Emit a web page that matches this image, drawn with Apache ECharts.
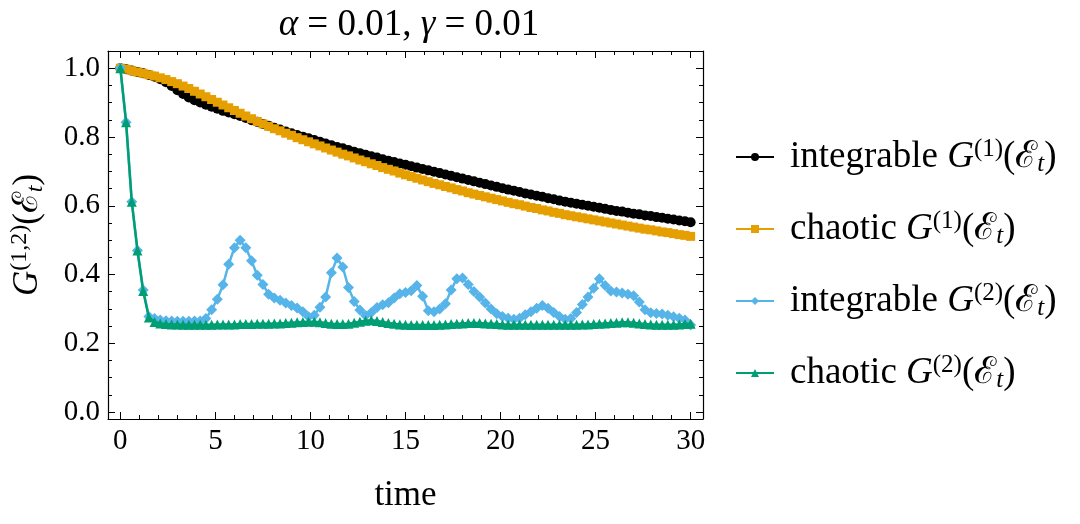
<!DOCTYPE html>
<html>
<head>
<meta charset="utf-8">
<script src="https://cdn.jsdelivr.net/npm/echarts@6/dist/echarts.min.js"></script>
<style>
html,body{margin:0;padding:0;background:#fff;}
#chart{width:1080px;height:524px;}
</style>
</head>
<body>
<div id="chart"></div>
<script>
const time = [0,0.3,0.6,0.9,1.2,1.5,1.8,2.1,2.4,2.7,3,3.3,3.6,3.9,4.2,4.5,4.8,5.1,5.4,5.7,6,6.3,6.6,6.9,7.2,7.5,7.8,8.1,8.4,8.7,9,9.3,9.6,9.9,10.2,10.5,10.8,11.1,11.4,11.7,12,12.3,12.6,12.9,13.2,13.5,13.8,14.1,14.4,14.7,15,15.3,15.6,15.9,16.2,16.5,16.8,17.1,17.4,17.7,18,18.3,18.6,18.9,19.2,19.5,19.8,20.1,20.4,20.7,21,21.3,21.6,21.9,22.2,22.5,22.8,23.1,23.4,23.7,24,24.3,24.6,24.9,25.2,25.5,25.8,26.1,26.4,26.7,27,27.3,27.6,27.9,28.2,28.5,28.8,29.1,29.4,29.7,30];

const integrableG1 = [1.000,0.997,0.993,0.989,0.985,0.980,0.975,0.968,0.959,0.948,0.936,0.925,0.915,0.907,0.900,0.894,0.888,0.882,0.876,0.871,0.866,0.861,0.855,0.849,0.844,0.838,0.833,0.827,0.822,0.816,0.811,0.806,0.801,0.796,0.791,0.786,0.781,0.776,0.771,0.767,0.762,0.757,0.753,0.748,0.744,0.740,0.735,0.731,0.727,0.723,0.719,0.715,0.711,0.707,0.703,0.699,0.695,0.691,0.687,0.683,0.679,0.675,0.671,0.667,0.663,0.659,0.655,0.651,0.647,0.644,0.640,0.636,0.633,0.629,0.626,0.622,0.619,0.615,0.612,0.609,0.606,0.603,0.600,0.597,0.594,0.591,0.588,0.585,0.583,0.580,0.577,0.575,0.572,0.570,0.567,0.565,0.562,0.560,0.557,0.555,0.552];

const chaoticG1 = [1.000,0.997,0.993,0.989,0.985,0.981,0.977,0.972,0.967,0.961,0.955,0.948,0.941,0.933,0.925,0.917,0.909,0.901,0.893,0.885,0.877,0.869,0.861,0.853,0.845,0.838,0.831,0.824,0.818,0.811,0.805,0.798,0.792,0.786,0.780,0.774,0.768,0.762,0.756,0.750,0.745,0.739,0.733,0.728,0.722,0.717,0.711,0.706,0.701,0.695,0.690,0.685,0.680,0.675,0.670,0.665,0.661,0.656,0.652,0.647,0.643,0.638,0.634,0.630,0.626,0.622,0.618,0.614,0.610,0.606,0.603,0.599,0.595,0.592,0.588,0.585,0.581,0.578,0.574,0.571,0.568,0.565,0.562,0.559,0.556,0.553,0.550,0.547,0.544,0.541,0.538,0.535,0.532,0.530,0.527,0.524,0.522,0.519,0.516,0.514,0.511];

const integrableG2 = [1.000,0.843,0.612,0.470,0.355,0.278,0.272,0.268,0.266,0.265,0.264,0.264,0.264,0.265,0.265,0.272,0.298,0.328,0.370,0.430,0.478,0.500,0.478,0.440,0.398,0.371,0.343,0.332,0.325,0.317,0.310,0.303,0.292,0.277,0.282,0.305,0.335,0.405,0.448,0.422,0.362,0.322,0.297,0.281,0.290,0.304,0.312,0.318,0.332,0.344,0.348,0.353,0.368,0.337,0.295,0.292,0.300,0.315,0.355,0.388,0.390,0.371,0.351,0.335,0.317,0.300,0.286,0.278,0.273,0.270,0.273,0.283,0.292,0.302,0.310,0.302,0.290,0.278,0.270,0.272,0.290,0.313,0.335,0.360,0.388,0.368,0.352,0.349,0.346,0.343,0.338,0.320,0.298,0.289,0.287,0.285,0.282,0.277,0.273,0.268,0.253];

const chaoticG2 = [1.000,0.843,0.612,0.470,0.352,0.275,0.262,0.258,0.256,0.255,0.255,0.254,0.254,0.254,0.254,0.254,0.254,0.255,0.255,0.255,0.255,0.256,0.256,0.256,0.257,0.257,0.257,0.258,0.258,0.259,0.260,0.261,0.262,0.263,0.263,0.261,0.259,0.257,0.256,0.256,0.257,0.260,0.263,0.266,0.267,0.265,0.262,0.259,0.257,0.255,0.254,0.253,0.253,0.253,0.253,0.253,0.254,0.255,0.256,0.257,0.258,0.259,0.259,0.259,0.258,0.257,0.256,0.255,0.254,0.254,0.254,0.254,0.254,0.254,0.254,0.254,0.254,0.254,0.254,0.254,0.254,0.255,0.255,0.256,0.257,0.258,0.259,0.260,0.261,0.261,0.260,0.258,0.256,0.255,0.254,0.254,0.254,0.254,0.255,0.256,0.257];

const seriesNames = ['integrable G1', 'chaotic G1', 'integrable G2', 'chaotic G2'];
const xMajorTicks = [0,5,10,15,20,25,30];
const xMinorTicks = [1,2,3,4,6,7,8,9,11,12,13,14,16,17,18,19,21,22,23,24,26,27,28,29];
const yMajorTicks = [0,0.2,0.4,0.6,0.8,1.0];
const yMinorTicks = [0.05,0.1,0.15,0.25,0.3,0.35,0.45,0.5,0.55,0.65,0.7,0.75,0.85,0.9,0.95];

const FONT = 'Liberation Serif';
const FS = 29;   // tick labels

function makeRich(bf, sf, lh) {
  return {
    r: {fontFamily: FONT, fontSize: bf, lineHeight: lh, color: '#000'},
    rp: {fontFamily: FONT, fontSize: bf, lineHeight: lh, color: '#000', padding: [0,0,0,11]},
    i: {fontFamily: FONT, fontSize: bf, lineHeight: lh, fontStyle: 'italic', color: '#000'},
    cal: {fontFamily: FONT, fontSize: bf, lineHeight: lh, color: '#000'},
    sup: {fontFamily: FONT, fontSize: sf, lineHeight: sf, verticalAlign: 'top', color: '#000'},
    sub: {fontFamily: FONT, fontSize: sf, lineHeight: sf - 2, fontStyle: 'italic', verticalAlign: 'bottom', color: '#000'}
  };
}
const richAxis = makeRich(35, 24, 40);
const richBig = makeRich(37, 25, 40);

function toPairs(ys) { return time.map((t, k) => [t, ys[k]]); }

const XMIN = -0.65, XMAX = 30.65, YMIN = -0.02, YMAX = 1.05;
const axisLineStyle = {color: '#000', width: 1.2};

function xAxisDef(pos, ticks, len, labels, showLine) {
  return {
    type: 'value', gridIndex: 0, position: pos, min: XMIN, max: XMAX,
    axisLine: {show: showLine, onZero: false, lineStyle: axisLineStyle},
    axisTick: {show: true, inside: true, length: len, customValues: ticks, lineStyle: {color: '#000', width: 1}},
    axisLabel: labels ? {show: true, customValues: ticks, fontFamily: FONT, fontSize: FS, color: '#000', margin: 8} : {show: false},
    splitLine: {show: false}
  };
}
function yAxisDef(pos, ticks, len, labels, showLine) {
  return {
    type: 'value', gridIndex: 0, position: pos, min: YMIN, max: YMAX,
    axisLine: {show: showLine, onZero: false, lineStyle: axisLineStyle},
    axisTick: {show: true, inside: true, length: len, customValues: ticks, lineStyle: {color: '#000', width: 1}},
    axisLabel: labels ? {show: true, customValues: ticks, fontFamily: FONT, fontSize: FS, color: '#000', margin: 8,
      formatter: v => v.toFixed(1)} : {show: false},
    splitLine: {show: false}
  };
}

const xs = [
  xAxisDef('bottom', xMajorTicks, 7, true, true),
  xAxisDef('bottom', xMinorTicks, 4, false, false),
  xAxisDef('top', xMajorTicks, 7, false, true),
  xAxisDef('top', xMinorTicks, 4, false, false)
];
xs[0].name = 'time';
xs[0].nameLocation = 'middle';
xs[0].nameGap = 59;
xs[0].nameTextStyle = {fontFamily: FONT, fontSize: 35, color: '#000'};

const ys = [
  yAxisDef('left', yMajorTicks, 7, true, true),
  yAxisDef('left', yMinorTicks, 4, false, false),
  yAxisDef('right', yMajorTicks, 7, false, true),
  yAxisDef('right', yMinorTicks, 4, false, false)
];
ys[0].name = '{i|G}{sup|(1,2)}{r|(}{cal|ℰ}{sub|t}{r|)}';
ys[0].nameLocation = 'middle';
ys[0].nameRotate = 90;
ys[0].nameGap = 60;
ys[0].nameTextStyle = {fontFamily: FONT, rich: richAxis};

const legendText = {
  'integrable G1': '{rp|integrable }{i|G}{sup|(1)}{r|(}{cal|ℰ}{sub|t}{r|)}',
  'chaotic G1': '{rp|chaotic }{i|G}{sup|(1)}{r|(}{cal|ℰ}{sub|t}{r|)}',
  'integrable G2': '{rp|integrable }{i|G}{sup|(2)}{r|(}{cal|ℰ}{sub|t}{r|)}',
  'chaotic G2': '{rp|chaotic }{i|G}{sup|(2)}{r|(}{cal|ℰ}{sub|t}{r|)}'
};

const colors = ['#000000', '#E69F00', '#56B4E9', '#009E73'];
const symbols = ['circle', 'rect', 'diamond', 'triangle'];
const sizes = [10, 9, 11, 10];
const datasets = [integrableG1, chaoticG1, integrableG2, chaoticG2];

const chart = echarts.init(document.getElementById('chart'), null, {renderer: 'canvas'});
chart.setOption({
  animation: false,
  backgroundColor: '#fff',
  textStyle: {fontFamily: FONT},
  grid: {left: 106, right: 377, top: 51, bottom: 105, containLabel: false},
  title: {
    text: '{i|α}{r| = 0.01, }{i|γ}{r| = 0.01}',
    left: 404, top: 0, textAlign: 'center',
    textStyle: {fontFamily: FONT, fontWeight: 400, rich: richBig}
  },
  legend: {
    orient: 'vertical', left: 730, top: 132,
    itemWidth: 38, itemHeight: 10, itemGap: 32,
    data: seriesNames,
    formatter: name => legendText[name],
    textStyle: {fontFamily: FONT, rich: richBig}
  },
  xAxis: xs,
  yAxis: ys,
  series: datasets.map((d, k) => ({
    name: seriesNames[k],
    type: 'line',
    xAxisIndex: 0, yAxisIndex: 0,
    data: toPairs(d),
    symbol: symbols[k],
    symbolSize: sizes[k],
    showSymbol: true,
    showAllSymbol: true,
    lineStyle: {color: colors[k], width: 2.5},
    itemStyle: {color: colors[k], borderWidth: 0},
    emphasis: {disabled: true},
    z: 2 + k
  }))
});
</script>
</body>
</html>
